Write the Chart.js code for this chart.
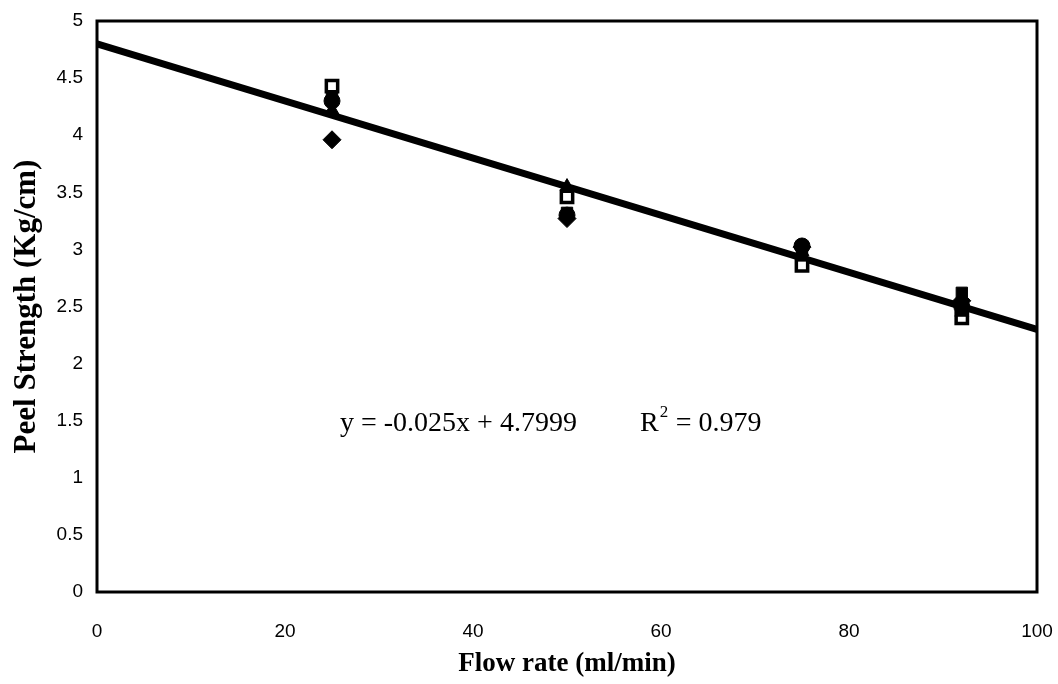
<!DOCTYPE html>
<html>
<head>
<meta charset="utf-8">
<script src="https://cdn.jsdelivr.net/npm/chart.js@4"></script>
<style>
  html, body { margin: 0; padding: 0; background: #fff; }
  #wrap { width: 1058px; height: 684px; }
</style>
</head>
<body>
<div id="wrap"><canvas id="peelChart"></canvas></div>
<script>
// flow rates tested (ml/min)
const flowRates = [25, 50, 75, 92];

// peel strength readings (Kg/cm), one array per sample set
const setDiamond = [3.96, 3.27, 3.02, 2.55];
const setSquare = [4.33, 3.32, 2.95, 2.62];
const setTriangle = [4.22, 3.55, 2.98, 2.45];
const setOpenSquare = [4.43, 3.46, 2.86, 2.40];
const setCircle = [4.30, 3.30, 3.03, 2.50];

// linear fit y = -0.025x + 4.7999
const trendX = [0, 100];
const trendY = [4.7999, 2.2999];

const xTicks = [0, 20, 40, 60, 80, 100];
const yTicks = [0, 0.5, 1, 1.5, 2, 2.5, 3, 3.5, 4, 4.5, 5];

function toPoints(xs, ys) {
  return xs.map((x, i) => ({ x: x, y: ys[i] }));
}

function markerSet(label, values, style, filled) {
  return {
    type: "scatter",
    label: label,
    data: toPoints(flowRates, values),
    pointStyle: style,
    pointRadius: style === "rectRot" ? 9 : 8,
    borderWidth: filled ? 1 : 3.5,
    borderColor: "#000",
    backgroundColor: filled ? "#000" : "#fff",
    order: 1
  };
}

const serif = "'Liberation Serif', 'Times New Roman', serif";

// frame round the plot area + equation text
const framePlugin = {
  id: "frame",
  afterDraw(chart) {
    const { ctx, chartArea } = chart;
    ctx.save();
    ctx.strokeStyle = "#000";
    ctx.lineWidth = 3;
    ctx.strokeRect(chartArea.left, chartArea.top, chartArea.right - chartArea.left, chartArea.bottom - chartArea.top);

    ctx.fillStyle = "#000";
    ctx.font = "28px " + serif;
    ctx.textBaseline = "alphabetic";
    ctx.fillText("y = -0.025x + 4.7999", 340, 431);
    ctx.fillText("R", 640, 431);
    const rw = ctx.measureText("R").width;
    ctx.font = "17px " + serif;
    ctx.fillText("2", 640 + rw + 1, 417);
    ctx.font = "28px " + serif;
    ctx.fillText(" = 0.979", 640 + rw + 10, 431);
    ctx.restore();
  }
};

const tickFont = { family: "'Liberation Sans', Arial, sans-serif", size: 19 };

new Chart(document.getElementById("peelChart"), {
  data: {
    datasets: [
      markerSet("Set 1", setDiamond, "rectRot", true),
      markerSet("Set 2", setSquare, "rect", true),
      markerSet("Set 3", setTriangle, "triangle", true),
      markerSet("Set 4", setCircle, "circle", true),
      markerSet("Set 5", setOpenSquare, "rect", false),
      {
        type: "line",
        label: "Linear fit",
        data: toPoints(trendX, trendY),
        borderColor: "#000",
        borderWidth: 7,
        pointRadius: 0,
        fill: false,
        order: 5
      }
    ]
  },
  options: {
    responsive: true,
    maintainAspectRatio: false,
    animation: false,
    layout: { padding: { top: 21, right: 21, left: 4, bottom: 0 } },
    plugins: {
      legend: { display: false },
      tooltip: { enabled: false }
    },
    scales: {
      x: {
        type: "linear",
        min: 0,
        max: 100,
        afterBuildTicks: (s) => { s.ticks = xTicks.map(v => ({ value: v })); },
        afterFit: (s) => { s.height = 92; s.paddingLeft = 0; s.paddingRight = 0; },
        grid: { display: false, drawTicks: false },
        border: { display: false },
        ticks: { color: "#000", font: tickFont, padding: 28 },
        title: { display: true, text: "Flow rate (ml/min)", color: "#000", font: { family: serif, size: 27, weight: "bold" }, padding: { top: 9 } }
      },
      y: {
        type: "linear",
        min: 0,
        max: 5,
        afterBuildTicks: (s) => { s.ticks = yTicks.map(v => ({ value: v })); },
        afterFit: (s) => { s.width = 93; s.paddingTop = 0; s.paddingBottom = 0; },
        grid: { display: false, drawTicks: false },
        border: { display: false },
        ticks: { color: "#000", font: tickFont, padding: 14, callback: (v) => String(v) },
        title: { display: true, text: "Peel Strength (Kg/cm)", color: "#000", font: { family: serif, size: 31, weight: "bold" }, padding: { bottom: 2 } }
      }
    }
  },
  plugins: [framePlugin]
});
</script>
</body>
</html>
